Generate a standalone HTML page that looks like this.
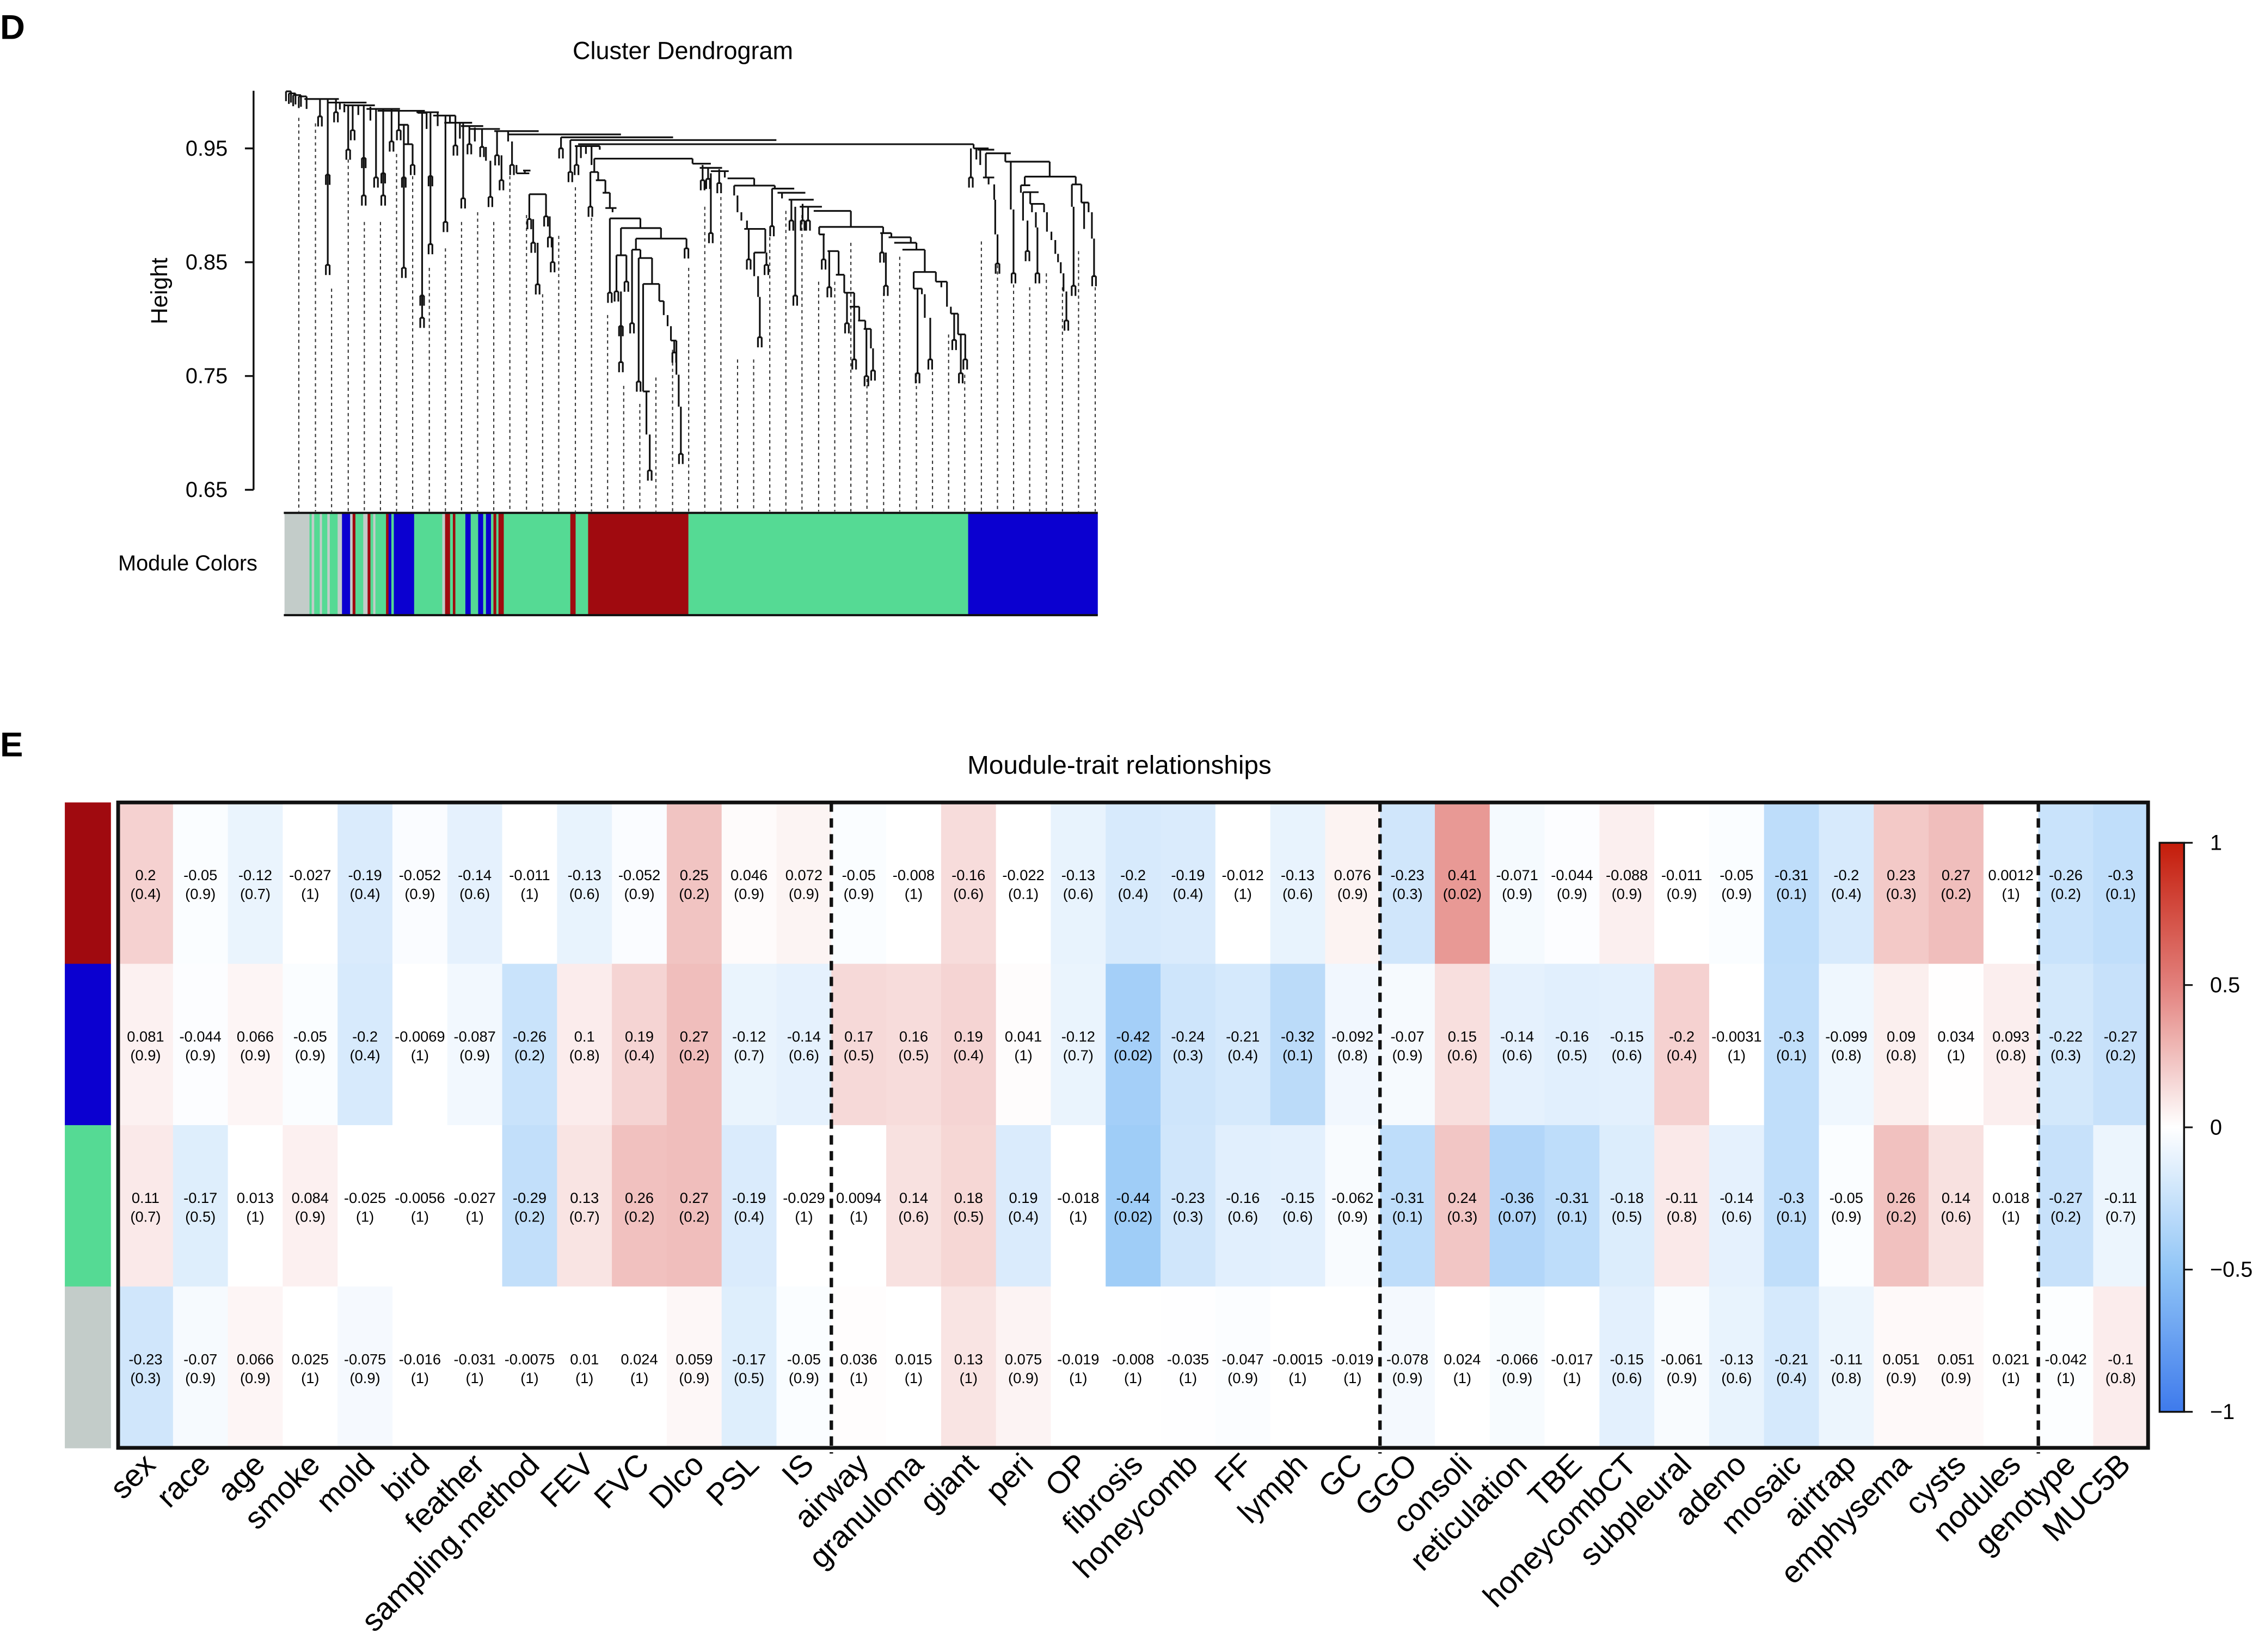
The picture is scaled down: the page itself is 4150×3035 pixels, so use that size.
<!DOCTYPE html>
<html><head><meta charset="utf-8"><style>
html,body{margin:0;padding:0;background:#fff}
svg{display:block}
text{font-family:"Liberation Sans",Arial,sans-serif;fill:#000}
</style></head><body>
<svg id="fig" xmlns="http://www.w3.org/2000/svg" width="4150" height="3035" viewBox="0 0 1568 1146.7">
<rect x="0" y="0" width="1568" height="1147" fill="#fff"/>
<text x="0" y="27" font-size="24" font-weight="bold">D</text>
<text x="474" y="41" font-size="17" text-anchor="middle">Cluster Dendrogram</text>
<text transform="translate(116,202) rotate(-90)" font-size="16" text-anchor="middle">Height</text>
<text x="82" y="396" font-size="15">Module Colors</text>
<g id="dendro"></g>
<g id="modbar"></g>
<text x="0" y="525" font-size="24" font-weight="bold">E</text>
<text x="777" y="537" font-size="18" text-anchor="middle">Moudule-trait relationships</text>
<g id="heat"></g>
<g id="cbar"></g>
</svg>
<script>
// ---------- heatmap data ----------
const traits = ["sex","race","age","smoke","mold","bird","feather","sampling.method","FEV","FVC","Dlco","PSL","IS","airway","granuloma","giant","peri","OP","fibrosis","honeycomb","FF","lymph","GC","GGO","consoli","reticulation","TBE","honeycombCT","subpleural","adeno","mosaic","airtrap","emphysema","cysts","nodules","genotype","MUC5B"];
const modules = ["darkred","blue","green","grey"];
const moduleColors = ["#A00A0F","#0B00D0","#55DA94","#C3CCC9"];
const corRed = [0.2,-0.05,-0.12,-0.027,-0.19,-0.052,-0.14,-0.011,-0.13,-0.052,0.25,0.046,0.072,-0.05,-0.008,-0.16,-0.022,-0.13,-0.2,-0.19,-0.012,-0.13,0.076,-0.23,0.41,-0.071,-0.044,-0.088,-0.011,-0.05,-0.31,-0.2,0.23,0.27,0.0012,-0.26,-0.3];
const pRed = [0.4,0.9,0.7,1,0.4,0.9,0.6,1,0.6,0.9,0.2,0.9,0.9,0.9,1,0.6,0.1,0.6,0.4,0.4,1,0.6,0.9,0.3,0.02,0.9,0.9,0.9,0.9,0.9,0.1,0.4,0.3,0.2,1,0.2,0.1];
const corBlue = [0.081,-0.044,0.066,-0.05,-0.2,-0.0069,-0.087,-0.26,0.1,0.19,0.27,-0.12,-0.14,0.17,0.16,0.19,0.041,-0.12,-0.42,-0.24,-0.21,-0.32,-0.092,-0.07,0.15,-0.14,-0.16,-0.15,-0.2,-0.0031,-0.3,-0.099,0.09,0.034,0.093,-0.22,-0.27];
const pBlue = [0.9,0.9,0.9,0.9,0.4,1,0.9,0.2,0.8,0.4,0.2,0.7,0.6,0.5,0.5,0.4,1,0.7,0.02,0.3,0.4,0.1,0.8,0.9,0.6,0.6,0.5,0.6,0.4,1,0.1,0.8,0.8,1,0.8,0.3,0.2];
const corGreen = [0.11,-0.17,0.013,0.084,-0.025,-0.0056,-0.027,-0.29,0.13,0.26,0.27,-0.19,-0.029,0.0094,0.14,0.18,0.19,-0.018,-0.44,-0.23,-0.16,-0.15,-0.062,-0.31,0.24,-0.36,-0.31,-0.18,-0.11,-0.14,-0.3,-0.05,0.26,0.14,0.018,-0.27,-0.11];
const pGreen = [0.7,0.5,1,0.9,1,1,1,0.2,0.7,0.2,0.2,0.4,1,1,0.6,0.5,0.4,1,0.02,0.3,0.6,0.6,0.9,0.1,0.3,0.07,0.1,0.5,0.8,0.6,0.1,0.9,0.2,0.6,1,0.2,0.7];
const corGrey = [-0.23,-0.07,0.066,0.025,-0.075,-0.016,-0.031,-0.0075,0.01,0.024,0.059,-0.17,-0.05,0.036,0.015,0.13,0.075,-0.019,-0.008,-0.035,-0.047,-0.0015,-0.019,-0.078,0.024,-0.066,-0.017,-0.15,-0.061,-0.13,-0.21,-0.11,0.051,0.051,0.021,-0.042,-0.1];
const pGrey = [0.3,0.9,0.9,1,0.9,1,1,1,1,1,0.9,0.5,0.9,1,1,1,0.9,1,1,1,0.9,1,1,0.9,1,0.9,1,0.6,0.9,0.6,0.4,0.8,0.9,0.9,1,1,0.8];
// cells whose shading in the original figure has the opposite sign of the printed value
const shadeFlip = [[0,15],[0,27],[0,28],[1,28],[2,16],[2,28],[3,36]];
const groupBreaks = [13,23,35];
const legendTicks = [1,0.5,0,-0.5,-1];

const NS="http://www.w3.org/2000/svg";
function mk(tag,attrs,parent){const e=document.createElementNS(NS,tag);for(const k in attrs)e.setAttribute(k,attrs[k]);parent.appendChild(e);return e;}

const cors=[corRed,corBlue,corGreen,corGrey];
const ps=[pRed,pBlue,pGreen,pGrey];
const HX0=82,HX1=1491,HY0=557,HY1=1005;
const colW=(HX1-HX0)/traits.length, rowH=(HY1-HY0)/modules.length;
const xCol=i=>HX0+i*colW, yRow=j=>HY0+j*rowH;
function lerp(a,b,t){return Math.round(a+(b-a)*t);}
function colorOf(v,raw){
  v=Math.max(-1,Math.min(1,v));
  if(!raw){const s=v<0?-1:1;v=s*Math.min(1,Math.max(0,Math.abs(v)-0.03)*1.06);}
  let c;
  if(v>=0){const A=[255,255,255],B=[226,128,124],C=[196,28,10];
    c=v<=0.5?A.map((a,i)=>lerp(a,B[i],v/0.5)):B.map((b,i)=>lerp(b,C[i],(v-0.5)/0.5));}
  else{const a=-v;const A=[255,255,255],B=[145,197,246],C=[62,122,236];
    c=a<=0.5?A.map((x,i)=>lerp(x,B[i],a/0.5)):B.map((b,i)=>lerp(b,C[i],(a-0.5)/0.5));}
  return `rgb(${c[0]},${c[1]},${c[2]})`;
}
const heat=document.getElementById('heat');
for(let j=0;j<modules.length;j++){
  const side=mk('rect',{x:45,y:yRow(j),width:32,height:rowH+0.3,fill:moduleColors[j]},heat);
  
  
  for(let i=0;i<traits.length;i++){
    const v=cors[j][i];
    const flip=shadeFlip.some(f=>f[0]===j&&f[1]===i);
    const cell=mk('rect',{x:xCol(i),y:yRow(j),width:colW+0.4,height:rowH+0.4,fill:colorOf(flip?-v:v)},heat);
    
    
    const cx=xCol(i)+colW/2, cy=yRow(j)+rowH/2;
    const t1=mk('text',{x:cx,y:cy-2,'font-size':10.3,'text-anchor':'middle'},heat);t1.textContent=String(v);
    
    
    const t2=mk('text',{x:cx,y:cy+11,'font-size':10.3,'text-anchor':'middle'},heat);t2.textContent='('+String(ps[j][i])+')';
    
    
  }
}
groupBreaks.forEach(b=>{
  const l=mk('line',{x1:xCol(b),x2:xCol(b),y1:HY0,y2:HY1+4,stroke:'#111','stroke-width':2.4,'stroke-dasharray':'6.5,4.5'},heat);
  
  
});
const fr=mk('rect',{x:HX0,y:HY0,width:HX1-HX0,height:HY1-HY0,fill:'none',stroke:'#111','stroke-width':2.6},heat);


traits.forEach((t,i)=>{
  const cx=xCol(i)+colW/2+8, cy=1018;
  const lab=mk('text',{x:cx,y:cy,'font-size':21.5,'text-anchor':'end',transform:`rotate(-45 ${cx} ${cy})`},heat);
  lab.textContent=t;
  
  
});
// colorbar
const cb=document.getElementById('cbar');
const CB0=585,CB1=980;
const defs=mk('defs',{},cb);
const gr=mk('linearGradient',{id:'cg',x1:0,y1:0,x2:0,y2:1},defs);
for(let k=0;k<=20;k++){const v=1-k/10;mk('stop',{offset:(k/20),'stop-color':colorOf(v,true)},gr);}
const cbr=mk('rect',{x:1499,y:CB0,width:17,height:CB1-CB0,fill:'url(#cg)',stroke:'#111','stroke-width':1.3},cb);


const yCb=v=>CB0+(1-v)/2*(CB1-CB0);
legendTicks.forEach(v=>{
  mk('line',{x1:1516,x2:1522,y1:yCb(v),y2:yCb(v),stroke:'#111','stroke-width':1.2},cb);
  const tl=mk('text',{x:1534,y:yCb(v)+5,'font-size':15},cb);
  tl.textContent=(v<0?'\u2212':'')+String(Math.abs(v));
  
  
});

// ---------- dendrogram ----------
const heightTicks=[0.95,0.85,0.75,0.65];
const dg=document.getElementById('dendro');
const yH=h=>103+(0.95-h)*790;
mk('line',{x1:176,x2:176,y1:63,y2:yH(0.65),stroke:'#111','stroke-width':1.3},dg);
heightTicks.forEach(h=>{
  mk('line',{x1:170,x2:176,y1:yH(h),y2:yH(h),stroke:'#111','stroke-width':1.3},dg);
  const t=mk('text',{x:158,y:yH(h)+5,'font-size':15,'text-anchor':'end'},dg);t.textContent=String(h);
  
  
});
const X=z=>188.9+z*0.3855, Y=z=>56.7+z*0.1928;
const leafLines=[[48,130],[78,150],[107,745],[137,280],[166,505],[195,505],[224,260],[253,340],[283,670],[312,600],[341,505],[370,470],[399,505],[428,340],[458,480],[487,765],[516,555],[546,380],[575,490],[604,840],[633,1095],[662,1160],[691,1065],[721,965],[750,670],[779,450],[808,415],[838,1000],[867,1000],[896,560],[925,465],[954,480],[984,720],[1013,720],[1042,580],[1071,1070],[1101,760],[1130,630],[1160,1050],[1189,1045],[1218,910],[1247,1055],[1277,575],[1306,660],[1335,730],[1364,740],[1394,690],[1423,740],[1452,610],[1482,740]];
leafLines.forEach(l=>mk('line',{x1:X(l[0]),x2:X(l[0]),y1:Y(l[1]),y2:355,stroke:'#333','stroke-width':0.8,'stroke-dasharray':'2.2,2.2'},dg));
const H=[[25,34,35],[30,42,42],[38,52,48],[48,62,53],[58,120,62],[100,170,75],[130,185,85],[170,230,98],[190,275,105],[260,300,110],[290,330,122],[310,360,148],[340,380,160],[355,410,170],[400,480,178],[425,628,190],[520,722,200],[537,908,210],[551,1263,225],[228,245,155],[262,278,112],[237,253,225],[440,463,330],[463,493,405],[452,465,320],[545,590,232],[580,757,277],[573,587,325],[583,600,355],[595,608,400],[600,620,455],[608,663,492],[628,700,527],[620,638,625],[655,746,565],[648,663,605],[660,684,635],[668,697,728],[668,680,1115],[697,705,790],[718,728,932],[757,790,295],[770,810,310],[790,822,322],[820,868,348],[832,905,374],[850,888,530],[868,888,615],[900,940,385],[910,960,400],[930,975,425],[950,990,450],[975,1042,465],[985,1100,523],[985,995,550],[1000,1020,610],[1015,1030,695],[1030,1048,760],[1040,1057,810],[1055,1068,860],[1065,1078,890],[1095,1115,545],[1110,1150,560],[1120,1160,580],[1135,1175,605],[1155,1195,685],[1155,1170,745],[1195,1215,720],[1222,1235,835],[1235,1248,910],[1263,1290,240],[1270,1300,245],[1285,1330,258],[1280,1300,345],[1320,1400,288],[1355,1447,342],[1348,1365,373],[1352,1380,398],[1365,1390,440],[1440,1457,370],[1457,1470,435]];
const V=[[25,35,70],[34,35,75],[30,42,80],[42,42,82],[38,48,88],[52,48,90],[48,53,95],[62,53,98],[100,62,335,1],[100,335,660,1],[86,62,125,1],[115,62,110,1],[122,75,100],[130,80,110],[137,85,245,1],[145,85,175,1],[155,85,120],[165,85,275,1],[165,275,410,1],[177,90,140],[187,98,345,1],[200,98,330,1],[200,330,410,1],[215,100,215,1],[228,105,175,1],[237,155,345,1],[237,345,670,1],[245,155,225],[253,225,300,1],[270,112,770,1],[270,770,850,1],[278,112,170],[285,110,340,1],[285,340,585,1],[298,110,160],[312,122,505,1],[320,122,150],[330,122,230,1],[338,148,205],[344,148,420,1],[355,160,225,1],[365,165,215],[378,170,235,1],[385,235,285],[393,285,415,1],[405,175,265,1],[413,265,355,1],[425,178,215],[432,215,300,1],[440,300,330],[455,320,330],[463,405,495,1],[470,495,580,1],[478,580,730,1],[493,405,485,1],[500,485,560,1],[505,560,650,1],[537,210,325,1],[520,200,240,1],[548,232,300,1],[556,232,275],[565,235,260],[575,235,300],[590,232,245],[580,277,325],[573,325,450,1],[587,325,355],[600,355,400],[608,400,455],[613,455,470],[608,492,760,1],[663,492,527],[628,527,625],[620,625,755,1],[638,625,720,1],[628,755,880,1],[628,880,1010,1],[700,527,565],[746,565,600,1],[655,565,605],[648,605,870,1],[663,605,635],[660,635,1080,1],[684,635,728],[668,728,1115],[674,1115,1270],[680,1270,1400,1],[697,728,790],[705,790,840],[712,840,880],[718,880,932],[724,932,975,1],[728,932,1055],[732,1055,1170],[736,1170,1340,1],[757,277,295],[775,300,355,1],[785,310,350,1],[790,330,545,1],[805,315,365,1],[815,322,345],[868,348,374],[832,374,410],[838,410,470],[845,470,500],[855,500,530],[858,530,640,1],[888,530,615],[868,615,700],[875,700,775],[878,775,920,1],[890,615,660,1],[905,374,385],[900,385,520,1],[918,400,420],[935,425,500,1],[942,450,770,1],[955,440,500,1],[965,450,500,1],[1042,465,523],[985,523,550],[993,550,640,1],[1003,610,740,1],[1020,610,695],[1030,695,760],[1035,760,870,1],[1048,760,810],[1048,810,1000,1],[1057,810,860],[1068,860,890],[1070,890,1060,1],[1078,890,960],[1082,960,1040,1],[1100,523,545],[1098,545,615,1],[1105,615,735,1],[1115,545,560],[1150,560,580],[1160,580,605],[1175,605,685],[1155,685,745],[1162,745,1050,1],[1170,745,765],[1175,765,850],[1185,850,1000,1],[1195,685,720],[1205,720,740],[1215,720,810],[1222,810,835],[1228,835,930,1],[1235,835,910],[1240,910,1050,1],[1248,910,1000,1],[1263,225,240],[1258,240,345,1],[1268,240,280],[1275,245,300],[1285,258,345],[1290,345,370],[1300,370,425],[1302,425,550],[1306,550,655,1],[1320,258,288],[1330,290,460],[1335,460,690,1],[1400,288,342],[1355,342,373],[1348,373,400],[1352,398,500],[1360,500,610,1],[1365,398,440],[1368,440,470],[1375,470,525],[1378,525,690,1],[1390,440,470],[1395,470,540],[1403,540,570],[1410,570,620],[1415,620,650],[1420,650,690],[1425,690,755],[1430,755,860,1],[1447,342,370],[1440,370,450],[1443,450,735,1],[1457,370,435],[1462,435,530],[1470,435,470],[1476,470,565],[1480,565,700,1]];
let d='';
H.forEach(h=>{d+=`M${X(h[0]).toFixed(1)} ${Y(h[2]).toFixed(1)}H${X(h[1]).toFixed(1)}`;});
V.forEach(v=>{d+=`M${X(v[0]).toFixed(1)} ${Y(v[1]).toFixed(1)}V${Y(v[2]).toFixed(1)}`;
  if(v[3]){const x=X(v[0]),y=Y(v[2]);d+=`M${(x-1.3).toFixed(1)} ${y.toFixed(1)}H${(x+1.3).toFixed(1)}M${(x-1.3).toFixed(1)} ${y.toFixed(1)}V${(y+7).toFixed(1)}M${(x+1.3).toFixed(1)} ${y.toFixed(1)}V${(y+7).toFixed(1)}`;}
});
const tree=mk('path',{d:d,stroke:'#111','stroke-width':1.2,fill:'none'},dg);



// module color bar
const mb=document.getElementById('modbar');
const bx=z=>196.4+z*0.2168;
const C={g:"#C3CCC9",n:"#55DA94",b:"#0B00D0",r:"#A00A0F"};
const segs=[[5,'g'],[85,'n'],[92,'g'],[100,'n'],[118,'g'],[125,'n'],[142,'g'],[150,'n'],[175,'g'],[189,'b'],[215,'g'],[223,'r'],[232,'n'],[257,'g'],[271,'r'],[280,'n'],[289,'g'],[296,'n'],[330,'r'],[338,'b'],[347,'n'],[355,'b'],[420,'n'],[510,'g'],[519,'r'],[535,'n'],[544,'r'],[552,'n'],[584,'b'],[601,'n'],[625,'b'],[641,'n'],[650,'b'],[666,'n'],[674,'r'],[683,'n'],[690,'r'],[707,'n'],[920,'r'],[937,'n'],[977,'r'],[1298,'n']];
const endX=[...segs.slice(1).map(s=>bx(s[0])),672];
segs.forEach((s,i)=>{mk('rect',{x:bx(s[0]),y:356,width:endX[i]-bx(s[0])+0.2,height:71,fill:C[s[1]]},mb);});
mk('rect',{x:672,y:356,width:90,height:71,fill:C.b},mb);
mk('line',{x1:197,x2:762,y1:356,y2:356,stroke:'#111','stroke-width':1.5},mb);
mk('line',{x1:197,x2:762,y1:427,y2:427,stroke:'#111','stroke-width':1.5},mb);
</script>
</body></html>
